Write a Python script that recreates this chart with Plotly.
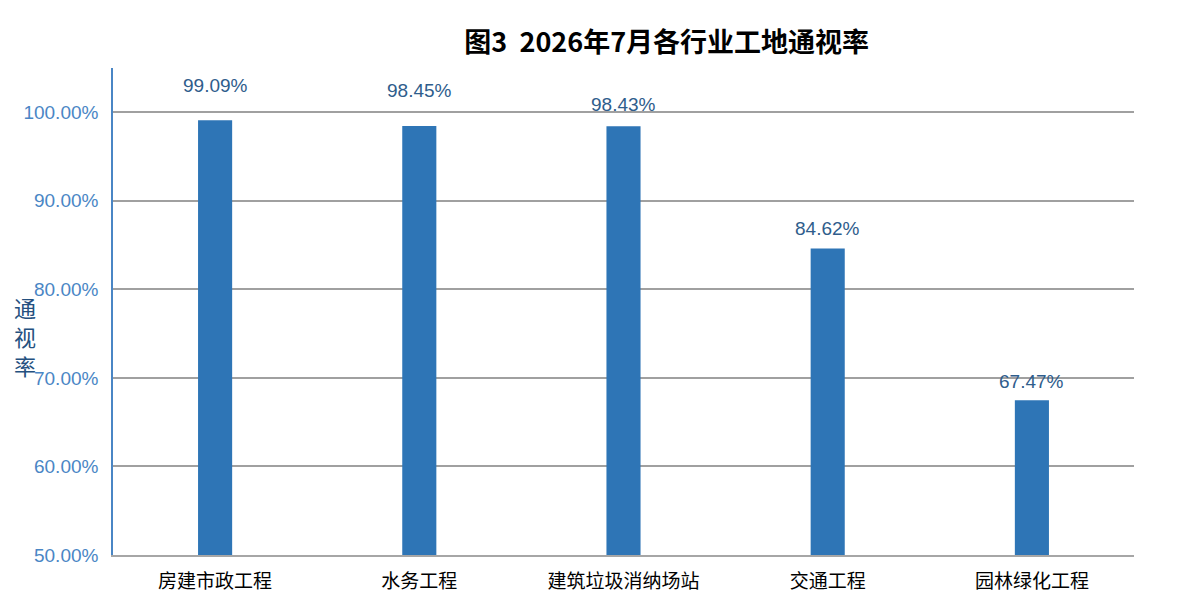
import plotly.graph_objects as go

# data
industries = ['房建市政工程', '水务工程', '建筑垃圾消纳场站', '交通工程', '园林绿化工程']
rates = [99.09, 98.45, 98.43, 84.62, 67.47]
rate_labels = ['99.09%', '98.45%', '98.43%', '84.62%', '67.47%']
y_ticks = [50, 60, 70, 80, 90, 100]
y_tick_text = ['50.00%', '60.00%', '70.00%', '80.00%', '90.00%', '100.00%']
y_title_chars = ['通', '视', '率']

# label offsets above the bar tops (px), as placed in the original
label_shift = [35, 36, 22, 20, 19]

fig = go.Figure()

fig.add_trace(go.Bar(
    x=industries,
    y=rates,
    marker=dict(color='#2E75B6', line=dict(width=0)),
    showlegend=False,
))

for name, val, lab, sh in zip(industries, rates, rate_labels, label_shift):
    fig.add_annotation(
        x=name, y=val, text=lab, showarrow=False,
        yanchor='middle', yshift=sh,
        font=dict(family='Liberation Sans, Arial', size=19, color='#2F5D8C'),
    )

# stacked y-axis title, one character per line
for i, ch in enumerate(y_title_chars):
    fig.add_annotation(
        xref='paper', yref='paper', x=-0.0862, y=0.51 - i * 0.06,
        text=ch, showarrow=False, xanchor='center', yanchor='middle',
        font=dict(family='Noto Sans CJK SC', size=22, color='#24507F'),
    )

fig.update_layout(
    title=dict(
        text='<b>图3  2026年7月各行业工地通视率</b>',
        x=0.548, xanchor='center', y=0.943, yanchor='middle',
        font=dict(family='Noto Sans CJK SC', size=27, color='#000000'),
    ),
    width=1202, height=600,
    margin=dict(l=105, r=76, t=60, b=53),
    plot_bgcolor='white',
    paper_bgcolor='white',
    bargap=0.833,
    xaxis=dict(
        showline=True, linecolor='#A6A6A6', linewidth=1.5,
        tickfont=dict(family='Noto Sans CJK SC', size=19, color='#000000'),
        ticks='', showgrid=False, ticklabelstandoff=8,
    ),
    yaxis=dict(
        range=[50, 105],
        tickvals=y_ticks, ticktext=y_tick_text,
        showline=True, linecolor='#4A86C5', linewidth=1.5,
        showgrid=True, gridcolor='#A0A0A0', gridwidth=1.5,
        zeroline=False, ticks='', ticklabelstandoff=9,
        tickfont=dict(family='Liberation Sans, Arial', size=19, color='#4A86C5'),
    ),
)

fig.write_html("out.html")
